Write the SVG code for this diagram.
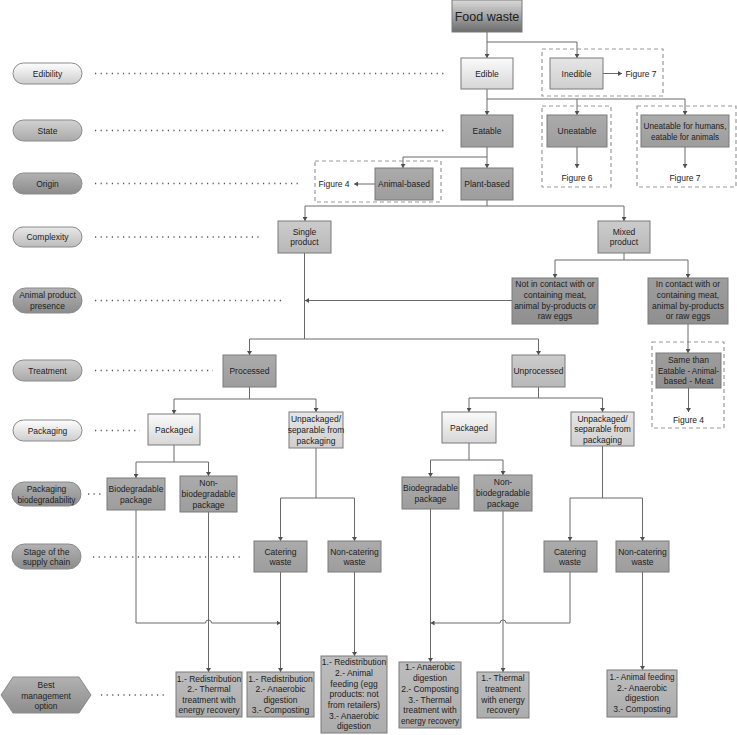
<svg xmlns="http://www.w3.org/2000/svg" width="737" height="735" viewBox="0 0 737 735">
<defs>
<linearGradient id="gFood" x1="0" y1="0" x2="0" y2="1"><stop offset="0" stop-color="#dadada"/><stop offset="1" stop-color="#6c6c6c"/></linearGradient>
<linearGradient id="gLight" x1="0" y1="0" x2="0" y2="1"><stop offset="0" stop-color="#fbfbfb"/><stop offset="1" stop-color="#d6d6d6"/></linearGradient>
<linearGradient id="gLight2" x1="0" y1="0" x2="0" y2="1"><stop offset="0" stop-color="#e6e6e6"/><stop offset="1" stop-color="#cfcfcf"/></linearGradient>
<linearGradient id="gMid" x1="0" y1="0" x2="0" y2="1"><stop offset="0" stop-color="#cccccc"/><stop offset="1" stop-color="#b8b8b8"/></linearGradient>
<linearGradient id="gDark" x1="0" y1="0" x2="0" y2="1"><stop offset="0" stop-color="#ababab"/><stop offset="1" stop-color="#9d9d9d"/></linearGradient>
<linearGradient id="gDarker" x1="0" y1="0" x2="0" y2="1"><stop offset="0" stop-color="#9e9e9e"/><stop offset="1" stop-color="#8f8f8f"/></linearGradient>
<linearGradient id="gBest" x1="0" y1="0" x2="0" y2="1"><stop offset="0" stop-color="#bdbdbd"/><stop offset="1" stop-color="#acacac"/></linearGradient>
<linearGradient id="pLight" x1="0" y1="0" x2="0" y2="1"><stop offset="0" stop-color="#fefefe"/><stop offset="1" stop-color="#cdcdcd"/></linearGradient>
<linearGradient id="pMid" x1="0" y1="0" x2="0" y2="1"><stop offset="0" stop-color="#d2d2d2"/><stop offset="1" stop-color="#a9a9a9"/></linearGradient>
<linearGradient id="pDark" x1="0" y1="0" x2="0" y2="1"><stop offset="0" stop-color="#b2b2b2"/><stop offset="1" stop-color="#8c8c8c"/></linearGradient>
<linearGradient id="pLightMid" x1="0" y1="0" x2="0" y2="1"><stop offset="0" stop-color="#e8e8e8"/><stop offset="1" stop-color="#bcbcbc"/></linearGradient>
<marker id="ah" viewBox="0 0 4 5" refX="4" refY="2.5" markerWidth="4" markerHeight="5" markerUnits="userSpaceOnUse" orient="auto"><path d="M0,0 L4,2.5 L0,5 z" fill="#505050"/></marker>
<style>
text{font-family:"Liberation Sans","Arial",sans-serif;font-size:8.5px;fill:#222;text-anchor:middle;dominant-baseline:central}
.big{font-size:12.5px}
.box{stroke:#7a7a7a;stroke-width:1}
.pill{stroke:#8a8a8a;stroke-width:1}
.dash{fill:none;stroke:#9a9a9a;stroke-width:1.2;stroke-dasharray:4 3}
.con{fill:none;stroke:#6a6a6a;stroke-width:1}
.arr{marker-end:url(#ah)}
.dot{fill:none;stroke:#555;stroke-width:1.3;stroke-dasharray:1.2 4.4}
.light{fill:url(#gLight)}
.light2{fill:url(#gLight2)}
.mid{fill:url(#gMid)}
.dark{fill:url(#gDark)}
.darker{fill:url(#gDarker)}
.best{fill:url(#gBest)}
</style>
</defs>
<rect width="737" height="735" fill="#ffffff"/>

<g id="levels">
<g id="lv-edibility"><rect class="pill" x="13" y="63" width="69" height="21" rx="10.5" fill="url(#pLight)"/><text x="47.5" y="73.5">Edibility</text></g>
<g id="lv-state"><rect class="pill" x="13" y="120" width="69" height="21" rx="10.5" fill="url(#pMid)"/><text x="47.5" y="130.5">State</text></g>
<g id="lv-origin"><rect class="pill" x="13" y="173" width="69" height="21" rx="10.5" fill="url(#pDark)"/><text x="47.5" y="183.5">Origin</text></g>
<g id="lv-complexity"><rect class="pill" x="13" y="227" width="69" height="20" rx="10" fill="url(#pLightMid)"/><text x="47.5" y="237">Complexity</text></g>
<g id="lv-animal"><rect class="pill" x="13" y="288" width="69" height="25" rx="12.5" fill="url(#pDark)"/><text x="47.5" y="295">Animal product</text><text x="47.5" y="306">presence</text></g>
<g id="lv-treatment"><rect class="pill" x="13" y="360" width="69" height="21" rx="10.5" fill="url(#pMid)"/><text x="47.5" y="370.5">Treatment</text></g>
<g id="lv-packaging"><rect class="pill" x="13" y="420" width="69" height="21" rx="10.5" fill="url(#pLight)"/><text x="47.5" y="430.5">Packaging</text></g>
<g id="lv-packbio"><rect class="pill" x="12" y="482" width="69" height="24" rx="12" fill="url(#pDark)"/><text x="46.5" y="489">Packaging</text><text x="46.5" y="499.5" textLength="58" lengthAdjust="spacingAndGlyphs">biodegradability</text></g>
<g id="lv-stage"><rect class="pill" x="12" y="544" width="69" height="25" rx="12.5" fill="url(#pDark)"/><text x="46.5" y="551.5">Stage of the</text><text x="46.5" y="561.5">supply chain</text></g>
<g id="lv-best"><polygon class="pill" points="1,695 13,677 79,677 91,695 79,713 13,713" fill="url(#pDark)"/><text x="46" y="685">Best</text><text x="46" y="695.5">management</text><text x="46" y="706">option</text></g>
</g>

<g id="dotted-guides">
<line class="dot" x1="95" y1="73.5" x2="445" y2="73.5"/>
<line class="dot" x1="95" y1="130.5" x2="445" y2="130.5"/>
<line class="dot" x1="95" y1="183.5" x2="298" y2="183.5"/>
<line class="dot" x1="95" y1="237" x2="262" y2="237"/>
<line class="dot" x1="95" y1="300.5" x2="285" y2="300.5"/>
<line class="dot" x1="95" y1="370.5" x2="213" y2="370.5"/>
<line class="dot" x1="95" y1="430.5" x2="140" y2="430.5"/>
<line class="dot" x1="88" y1="494" x2="101" y2="494"/>
<line class="dot" x1="93" y1="557" x2="240" y2="557"/>
<line class="dot" x1="101" y1="695" x2="165" y2="695"/>
</g>

<g id="dashed-groups">
<rect class="dash" x="542" y="49" width="121" height="47"/>
<rect class="dash" x="542" y="106" width="69" height="81"/>
<rect class="dash" x="637" y="106" width="99" height="81"/>
<rect class="dash" x="315" y="161" width="126" height="41"/>
<rect class="dash" x="652" y="342" width="72" height="86"/>
</g>

<g id="connectors">
<path class="con arr" d="M487,32 V58"/>
<path class="con arr" d="M487,42 H577 V58"/>
<path class="con arr" d="M603,73.5 H622"/>
<path class="con arr" d="M487,89 V115"/>
<path class="con arr" d="M487,99 H577 V115"/>
<path class="con arr" d="M577,99 H685 V115"/>
<path class="con arr" d="M577,147 V168"/>
<path class="con arr" d="M685,147 V168"/>
<path class="con arr" d="M487,147 V168"/>
<path class="con arr" d="M487,157 H403 V168"/>
<path class="con arr" d="M375,184 H354"/>
<path class="con arr" d="M487,200 V206 H305 V221"/>
<path class="con arr" d="M487,206 H624 V221"/>
<path class="con arr" d="M624,253 V260 H555 V278"/>
<path class="con arr" d="M624,260 H688 V278"/>
<path class="con arr" d="M512,300.5 H305"/>
<path class="con arr" d="M688,324 V353"/>
<path class="con arr" d="M688.5,388 V412"/>
<path class="con arr" d="M304.5,253 V339 H249.5 V355"/>
<path class="con arr" d="M304.5,339 H538.5 V355"/>
<path class="con arr" d="M249.5,387 V399 H174 V414"/>
<path class="con arr" d="M249.5,399 H316 V412"/>
<path class="con arr" d="M174,445 V462 H136 V478"/>
<path class="con arr" d="M174,462 H208.5 V476"/>
<path class="con arr" d="M538.5,387 V398 H469 V412"/>
<path class="con arr" d="M538.5,398 H602.5 V412"/>
<path class="con arr" d="M469,443 V460 H430.5 V477"/>
<path class="con arr" d="M469,460 H503 V475"/>
<path class="con arr" d="M316,448 V498 H280.5 V541"/>
<path class="con arr" d="M316,498 H354.5 V541"/>
<path class="con arr" d="M602.5,446 V498 H570 V541"/>
<path class="con arr" d="M602.5,498 H642.5 V541"/>
<path class="con arr" d="M136,510 V623 H205.5 A3,3 0 0 1 211.5,623 H280.5"/>
<path class="con arr" d="M208.5,512 V672"/>
<path class="con arr" d="M280.5,572 V672"/>
<path class="con arr" d="M354.5,572 V656"/>
<path class="con arr" d="M570,572 V623 H506 A3,3 0 0 0 500,623 H430.5"/>
<path class="con arr" d="M430.5,509 V662"/>
<path class="con arr" d="M503,511 V672"/>
<path class="con arr" d="M642.5,572 V670"/>
</g>

<g id="food-waste"><rect class="box" x="452" y="0" width="70" height="32" fill="url(#gFood)"/><text class="big" x="487" y="16.5">Food waste</text></g>
<g id="edible"><rect class="box light" x="461" y="58" width="52" height="31"/><text x="487" y="73.5">Edible</text></g>
<g id="inedible"><rect class="box light2" x="550" y="58" width="53" height="31"/><text x="576.5" y="73.5">Inedible</text></g>
<g id="fig7a"><text x="641" y="73.5">Figure 7</text></g>
<g id="eatable"><rect class="box dark" x="461" y="115" width="52" height="32"/><text x="487" y="131">Eatable</text></g>
<g id="uneatable"><rect class="box dark" x="547" y="115" width="60" height="32"/><text x="577" y="131">Uneatable</text></g>
<g id="fig6"><text x="577" y="178">Figure 6</text></g>
<g id="uneatable-humans"><rect class="box dark" x="641" y="115" width="88" height="32"/><text x="685" y="126" textLength="83" lengthAdjust="spacingAndGlyphs">Uneatable for humans,</text><text x="685" y="136.7" textLength="68" lengthAdjust="spacingAndGlyphs">eatable for animals</text></g>
<g id="fig7b"><text x="685" y="178">Figure 7</text></g>
<g id="animal-based"><rect class="box dark" x="375" y="168" width="58" height="32"/><text x="404" y="184">Animal-based</text></g>
<g id="fig4a"><text x="334" y="184">Figure 4</text></g>
<g id="plant-based"><rect class="box dark" x="461" y="168" width="52" height="32"/><text x="487" y="184">Plant-based</text></g>
<g id="single-product"><rect class="box mid" x="278" y="221" width="53" height="32"/><text x="304.5" y="231.7">Single</text><text x="304.5" y="242.3">product</text></g>
<g id="mixed-product"><rect class="box mid" x="598" y="221" width="52" height="32"/><text x="624" y="231.7">Mixed</text><text x="624" y="242.3">product</text></g>
<g id="not-in-contact"><rect class="box darker" x="512" y="278" width="86" height="46"/><text x="555" y="284">Not in contact with or</text><text x="555" y="295">containing meat,</text><text x="555" y="305.7">animal by-products or</text><text x="555" y="316.3">raw eggs</text></g>
<g id="in-contact"><rect class="box darker" x="648" y="278" width="80" height="46"/><text x="688" y="284">In contact with or</text><text x="688" y="295">containing meat,</text><text x="688" y="305.7">animal by-products</text><text x="688" y="316.3">or raw eggs</text></g>
<g id="same-than"><rect class="box darker" x="656" y="353" width="65" height="35"/><text x="688.5" y="360">Same than</text><text x="688.5" y="370.7" textLength="61" lengthAdjust="spacingAndGlyphs">Eatable - Animal-</text><text x="688.5" y="381">based - Meat</text></g>
<g id="fig4b"><text x="688.5" y="420">Figure 4</text></g>
<g id="processed"><rect class="box dark" x="223" y="355" width="53" height="32"/><text x="249.5" y="371">Processed</text></g>
<g id="unprocessed"><rect class="box mid" x="512" y="355" width="53" height="32"/><text x="538.5" y="371">Unprocessed</text></g>
<g id="packaged-1"><rect class="box light" x="148" y="414" width="52" height="31"/><text x="174" y="429.5">Packaged</text></g>
<g id="unpackaged-1"><rect class="box light2" x="289" y="412" width="54" height="36"/><text x="316" y="419.3">Unpackaged/</text><text x="316" y="430">separable from</text><text x="316" y="440.7">packaging</text></g>
<g id="packaged-2"><rect class="box light" x="442" y="412" width="54" height="31"/><text x="469" y="427.5">Packaged</text></g>
<g id="unpackaged-2"><rect class="box light2" x="571" y="412" width="63" height="34"/><text x="602.5" y="418.5">Unpackaged/</text><text x="602.5" y="429">separable from</text><text x="602.5" y="439.5">packaging</text></g>
<g id="bio-1"><rect class="box dark" x="107" y="478" width="58" height="32"/><text x="136" y="489">Biodegradable</text><text x="136" y="499.5">package</text></g>
<g id="nonbio-1"><rect class="box dark" x="180" y="476" width="57" height="36"/><text x="208.5" y="483.3">Non-</text><text x="208.5" y="494">biodegradable</text><text x="208.5" y="504.5">package</text></g>
<g id="bio-2"><rect class="box dark" x="402" y="477" width="57" height="32"/><text x="430.5" y="488">Biodegradable</text><text x="430.5" y="498.5">package</text></g>
<g id="nonbio-2"><rect class="box dark" x="474" y="475" width="58" height="36"/><text x="503" y="482.3">Non-</text><text x="503" y="493">biodegradable</text><text x="503" y="503.5">package</text></g>
<g id="catering-1"><rect class="box dark" x="254" y="541" width="53" height="31"/><text x="280.5" y="551.7">Catering</text><text x="280.5" y="562.3">waste</text></g>
<g id="noncatering-1"><rect class="box dark" x="328" y="541" width="53" height="31"/><text x="354.5" y="551.7">Non-catering</text><text x="354.5" y="562.3">waste</text></g>
<g id="catering-2"><rect class="box dark" x="544" y="541" width="53" height="31"/><text x="570" y="551.7">Catering</text><text x="570" y="562.3">waste</text></g>
<g id="noncatering-2"><rect class="box dark" x="616" y="541" width="53" height="31"/><text x="642.5" y="551.7">Non-catering</text><text x="642.5" y="562.3">waste</text></g>
<g id="best-1"><rect class="box best" x="176" y="672" width="66" height="45"/><text x="209" y="678.5">1.- Redistribution</text><text x="209" y="689">2.- Thermal</text><text x="209" y="699.7">treatment with</text><text x="209" y="710.3">energy recovery</text></g>
<g id="best-2"><rect class="box best" x="247" y="672" width="67" height="45"/><text x="280.5" y="678.5">1.- Redistribution</text><text x="280.5" y="689">2.- Anaerobic</text><text x="280.5" y="699.7">digestion</text><text x="280.5" y="710.3">3.- Composting</text></g>
<g id="best-3"><rect class="box best" x="321" y="656" width="66" height="77"/><text x="354" y="662.3">1.- Redistribution</text><text x="354" y="673.3">2.- Animal</text><text x="354" y="684">feeding (egg</text><text x="354" y="694.3">products: not</text><text x="354" y="705">from retailers)</text><text x="354" y="715.7">3.- Anaerobic</text><text x="354" y="726">digestion</text></g>
<g id="best-4"><rect class="box best" x="399" y="662" width="62" height="66"/><text x="430" y="667.3">1.- Anaerobic</text><text x="430" y="678.3">digestion</text><text x="430" y="689">2.- Composting</text><text x="430" y="699.7">3.- Thermal</text><text x="430" y="710.3">treatment with</text><text x="430" y="721" textLength="58" lengthAdjust="spacingAndGlyphs">energy recovery</text></g>
<g id="best-5"><rect class="box best" x="477" y="672" width="52" height="46"/><text x="503" y="678.3">1.- Thermal</text><text x="503" y="689">treatment</text><text x="503" y="699.7">with energy</text><text x="503" y="710.3">recovery</text></g>
<g id="best-6"><rect class="box best" x="607" y="670" width="70" height="47"/><text x="642" y="677" textLength="65" lengthAdjust="spacingAndGlyphs">1.- Animal feeding</text><text x="642" y="687.7">2.- Anaerobic</text><text x="642" y="698.3">digestion</text><text x="642" y="709">3.- Composting</text></g>
</svg>
